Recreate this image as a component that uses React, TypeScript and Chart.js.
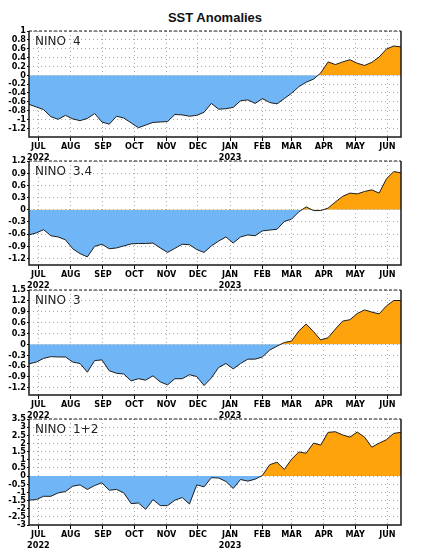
import { useEffect, useRef } from 'react';
import { Chart, registerables } from 'chart.js';

Chart.register(...registerables);

// Weekly values start on 22 Jun 2022, one every 7 days
const FIRST_WEEK = Date.UTC(2022, 5, 22);
const DAY_MS = 86400000;

const MONTH_NAMES = ['JUL', 'AUG', 'SEP', 'OCT', 'NOV', 'DEC', 'JAN', 'FEB', 'MAR', 'APR', 'MAY', 'JUN'];
const MONTH_YEARS = ['2022', '', '', '', '', '', '2023', '', '', '', '', ''];

const NINO4 = [
  -0.66, -0.72, -0.78, -0.94, -1.0, -0.91, -0.99, -1.03, -0.98, -0.87, -1.06, -1.11, -0.93,
  -0.97, -1.08, -1.19, -1.13, -1.07, -1.06, -1.05, -0.89, -0.9, -0.93, -0.91, -0.84, -0.64,
  -0.77, -0.76, -0.73, -0.58, -0.56, -0.64, -0.53, -0.62, -0.65, -0.53, -0.41, -0.26, -0.16,
  -0.09, 0.05, 0.3, 0.24, 0.3, 0.35, 0.27, 0.22, 0.29, 0.41, 0.59, 0.66, 0.64,
];
const NINO34 = [
  -0.62, -0.57, -0.49, -0.64, -0.67, -0.74, -0.96, -1.08, -1.16, -0.9, -0.85, -0.96, -0.94,
  -0.89, -0.84, -0.83, -0.83, -0.82, -0.94, -1.05, -0.95, -0.85, -0.86, -0.98, -1.05, -0.89,
  -0.77, -0.67, -0.82, -0.67, -0.62, -0.64, -0.52, -0.5, -0.48, -0.29, -0.23, -0.05, 0.07,
  -0.02, -0.02, 0.04, 0.19, 0.33, 0.41, 0.39, 0.45, 0.49, 0.41, 0.76, 0.94, 0.91,
];
const NINO3 = [
  -0.54, -0.49, -0.39, -0.34, -0.35, -0.35, -0.49, -0.53, -0.77, -0.45, -0.43, -0.73, -0.8,
  -0.82, -1.01, -0.95, -0.99, -0.87, -1.04, -1.12, -0.95, -0.95, -0.84, -0.89, -1.14, -0.93,
  -0.64, -0.53, -0.68, -0.53, -0.41, -0.41, -0.35, -0.16, -0.05, 0.05, 0.09, 0.37, 0.56,
  0.35, 0.12, 0.18, 0.42, 0.64, 0.68, 0.85, 0.95, 0.89, 0.84, 1.06, 1.21, 1.21,
];
const NINO12 = [
  -1.48, -1.44, -1.24, -1.24, -1.03, -0.95, -0.62, -0.54, -0.82, -0.58, -0.41, -0.87, -0.82,
  -1.03, -1.69, -1.65, -2.04, -1.44, -1.81, -1.81, -1.48, -1.32, -1.71, -0.54, -0.66, -0.1,
  -0.12, -0.33, -0.76, -0.21, -0.31, -0.19, 0.04, 0.7, 0.85, 0.41, 1.03, 1.48, 1.4,
  2.02, 1.9, 2.68, 2.72, 2.52, 2.39, 2.7, 2.39, 1.77, 2.02, 2.23, 2.62, 2.68,
];

const TICKS_NINO4 = [-1.2, -1, -0.8, -0.6, -0.4, -0.2, 0, 0.2, 0.4, 0.6, 0.8, 1];
const TICKS_NINO34 = [-1.2, -0.9, -0.6, -0.3, 0, 0.3, 0.6, 0.9, 1.2];
const TICKS_NINO3 = [-1.2, -0.9, -0.6, -0.3, 0, 0.3, 0.6, 0.9, 1.2, 1.5];
const TICKS_NINO12 = [-3, -2.5, -2, -1.5, -1, -0.5, 0, 0.5, 1, 1.5, 2, 2.5, 3, 3.5];

const MONTH_DAYS = MONTH_NAMES.map((_, i) => (Date.UTC(2022, 6 + i, 1) - FIRST_WEEK) / DAY_MS);
const LAST_DAY = (NINO4.length - 1) * 7;

const TICK_FONT = { family: "'Liberation Sans Narrow', 'DejaVu Sans Condensed', 'Liberation Sans', sans-serif", size: 9, weight: 'bold' as const };
const ABOVE = '#ffa30d';
const BELOW = '#70b5f6';

const PLOT_LEFT = 29;
const PLOT_RIGHT = 401;
const PAD_TOP = 8;
const X_AXIS_H = 28;

type PanelProps = {
  region: string;
  values: number[];
  ticks: number[];
  yMin: number;
  yMax: number;
  top: number;
  bottom: number;
};

function Panel({ region, values, ticks, yMin, yMax, top, bottom }: PanelProps) {
  const ref = useRef<HTMLCanvasElement | null>(null);
  const height = bottom - top + PAD_TOP + X_AXIS_H;

  useEffect(() => {
    if (!ref.current) return;
    const framePlugin = {
      id: 'frameAndLabel',
      afterDraw(chart: Chart) {
        const { ctx, chartArea } = chart;
        const { left, right, top: t, bottom: b } = chartArea;
        ctx.save();
        ctx.strokeStyle = '#1a1a1a';
        ctx.lineWidth = 1.5;
        ctx.beginPath();
        ctx.moveTo(left, t);
        ctx.lineTo(left, b);
        ctx.lineTo(right, b);
        ctx.lineTo(right, t);
        ctx.stroke();
        ctx.lineWidth = 1.2;
        ctx.setLineDash([3, 2]);
        ctx.beginPath();
        ctx.moveTo(left, t);
        ctx.lineTo(right, t);
        ctx.stroke();
        ctx.setLineDash([]);
        ctx.font = "12px 'DejaVu Sans', sans-serif";
        ctx.fillStyle = '#222';
        ctx.textBaseline = 'middle';
        ctx.textAlign = 'left';
        const w = ctx.measureText('NINO').width;
        ctx.fillText('NINO', left + 6, t + 11);
        ctx.fillText(region, left + 6 + w + 7, t + 11);
        ctx.restore();
      },
    };

    const chart = new Chart(ref.current, {
      type: 'line',
      data: {
        datasets: [
          {
            data: values.map((v, i) => ({ x: i * 7, y: v })),
            borderColor: '#1e1e1e',
            borderWidth: 1,
            pointRadius: 0,
            tension: 0,
            fill: { target: { value: 0 }, above: ABOVE, below: BELOW },
          },
        ],
      },
      options: {
        animation: false,
        responsive: false,
        events: [],
        layout: { padding: { top: PAD_TOP, right: 424 - PLOT_RIGHT, left: 0, bottom: 0 } },
        plugins: { legend: { display: false }, tooltip: { enabled: false }, title: { display: false } },
        scales: {
          x: {
            type: 'linear',
            min: 0,
            max: LAST_DAY,
            afterBuildTicks: (s: any) => {
              s.ticks = MONTH_DAYS.map((v) => ({ value: v }));
            },
            afterFit: (s: any) => {
              s.height = X_AXIS_H;
            },
            ticks: {
              autoSkip: false,
              maxRotation: 0,
              padding: 0,
              color: '#000',
              font: TICK_FONT,
              callback: (_v: any, i: number) =>
                MONTH_YEARS[i] ? [MONTH_NAMES[i], MONTH_YEARS[i]] : MONTH_NAMES[i],
            },
            grid: { color: '#a8a8a8', lineWidth: 1, tickColor: '#000', tickLength: 4 },
            border: { display: false, dash: [1, 3] },
          },
          y: {
            min: yMin,
            max: yMax,
            afterBuildTicks: (s: any) => {
              s.ticks = ticks.map((v) => ({ value: v }));
            },
            afterFit: (s: any) => {
              s.width = PLOT_LEFT;
            },
            ticks: {
              autoSkip: false,
              padding: 1,
              color: '#000',
              font: TICK_FONT,
              callback: (v: any) => String(v),
            },
            grid: { color: '#a8a8a8', lineWidth: 1, tickColor: '#000', tickLength: 2 },
            border: { display: false, dash: [1, 3] },
          },
        },
      },
      plugins: [framePlugin],
    });
    return () => chart.destroy();
  }, [region, values, ticks, yMin, yMax, top, bottom]);

  return (
    <canvas
      ref={ref}
      width={424}
      height={height}
      style={{ position: 'absolute', left: 0, top: top - PAD_TOP, width: 424, height }}
    />
  );
}

export default function App() {
  return (
    <div style={{ position: 'absolute', left: 0, top: 0, width: 424, height: 556, background: '#fff', overflow: 'hidden' }}>
      <div
        style={{
          position: 'absolute',
          left: PLOT_LEFT,
          width: PLOT_RIGHT - PLOT_LEFT,
          top: 10,
          textAlign: 'center',
          font: "bold 13px 'Liberation Sans', Arial, sans-serif",
          color: '#111',
          lineHeight: '16px',
        }}
      >
        SST Anomalies
      </div>
      <Panel region="4" values={NINO4} ticks={TICKS_NINO4} yMin={-1.4} yMax={1} top={31} bottom={137} />
      <Panel region="3.4" values={NINO34} ticks={TICKS_NINO34} yMin={-1.36} yMax={1.2} top={161} bottom={265} />
      <Panel region="3" values={NINO3} ticks={TICKS_NINO3} yMin={-1.4} yMax={1.5} top={290} bottom={395} />
      <Panel region="1+2" values={NINO12} ticks={TICKS_NINO12} yMin={-3} yMax={3.5} top={419} bottom={525} />
    </div>
  );
}
